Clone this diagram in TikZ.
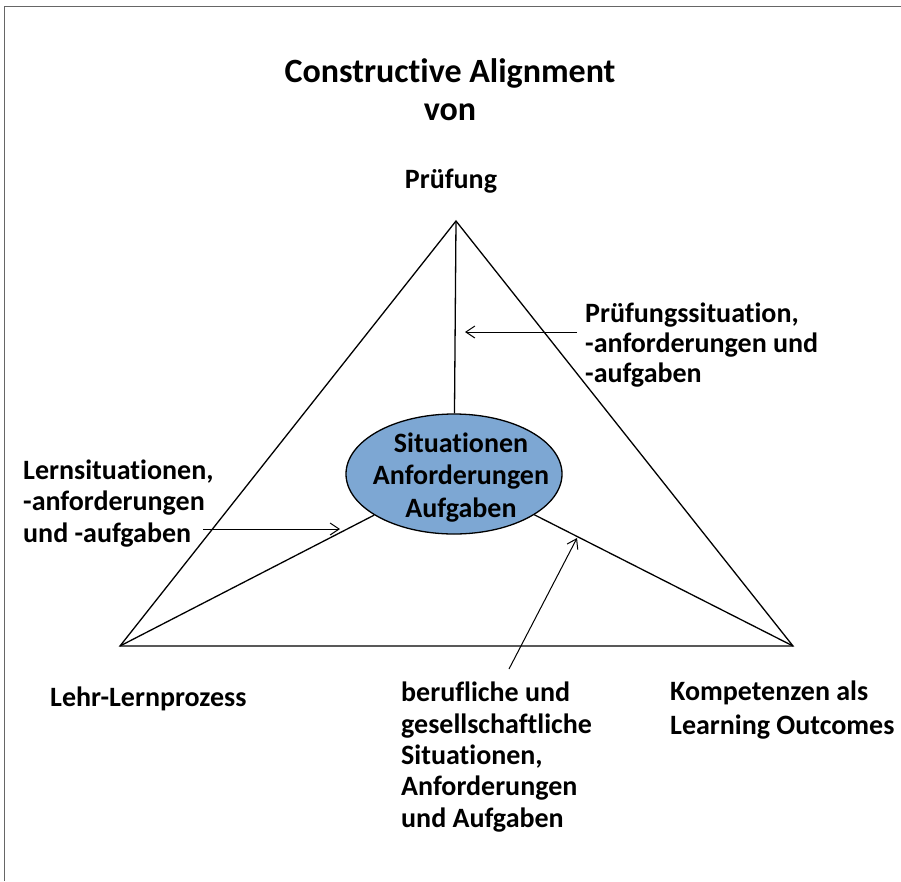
\documentclass[tikz,border=0pt]{standalone}
\usepackage{fontspec}
\setmainfont{Carlito}[Ligatures=NoCommon]
\usetikzlibrary{arrows.meta,shapes.geometric}

\definecolor{ellipsenblau}{RGB}{125,167,211}
\newcommand\titelschrift{\fontsize{34}{38}\selectfont\bfseries}
\newcommand\etikettschrift{\fontsize{28}{31.3}\selectfont\bfseries}

\tikzset{
  rahmen/.style={draw=black!60,line width=1.5pt},
  kante/.style={line width=1.3pt},
  pfeil/.style={line width=1pt,-{Straight Barb[length=9pt,width=12pt]}},
  etikett/.style={font=\etikettschrift,align=left,inner sep=0pt,anchor=base west},
  titel/.style={font=\titelschrift,align=center,inner sep=0pt,anchor=base},
  mitte/.style={ellipse,draw,line width=1.3pt,fill=ellipsenblau,minimum width=216pt,
    minimum height=120pt,inner sep=0pt}
}

\begin{document}
\begin{tikzpicture}[x=1pt,y=-1pt]
\useasboundingbox (0,0) rectangle (901,881);
% Rahmen
\draw[rahmen] (4.7,881) -- (4.7,6.7) -- (901,6.7);

% Titel (base = letzte Zeile)
\node[titel] (titel) at (450,120) {Constructive Alignment\\von};

% Dreieck
\coordinate (oben) at (456,221);
\coordinate (links) at (120,646);
\coordinate (rechts) at (793,646);
\draw[kante] (oben) -- (links) -- (rechts) -- cycle;

% Ellipse in der Mitte
\node[mitte] (mitte) at (454,474) {};
\node[titel,font=\fontsize{28}{32.5}\selectfont\bfseries] (mittetext) at (461,517) {Situationen\\Anforderungen\\Aufgaben};
\draw[kante] (oben) -- (mitte);
\draw[kante] (mitte) -- (links);
\draw[kante] (mitte) -- (rechts);

% Ecken
\node[etikett,anchor=base] (pruefung) at (451,188) {Prüfung};
\node[etikett] (lehr) at (50,706) {Lehr-Lernprozess};
\node[etikett,font=\fontsize{28}{34}\selectfont\bfseries] (kompetenz) at (670,734) {Kompetenzen als\\Learning Outcomes};

% Erlaeuterungen
\node[etikett,font=\fontsize{28}{30}\selectfont\bfseries] (pruefsit) at (585,382) {Prüfungssituation,\\-anforderungen und\\-aufgaben};
\node[etikett] (lernsit) at (23,542) {Lernsituationen,\\-anforderungen\\und -aufgaben};
\node[etikett] (beruf) at (401,827) {berufliche und\\gesellschaftliche\\Situationen,\\Anforderungen\\und Aufgaben};

% Pfeile
\coordinate (pruefstart) at (577,332);
\coordinate (pruefziel) at (465,332);
\coordinate (lernstart) at (203,529);
\coordinate (lernziel) at (340,529);
\coordinate (berufstart) at (509,669);
\coordinate (berufziel) at (577,538);
\draw[pfeil] (pruefstart) -- (pruefziel);
\draw[pfeil] (lernstart) -- (lernziel);
\draw[pfeil] (berufstart) -- (berufziel);

\end{tikzpicture}
\end{document}
